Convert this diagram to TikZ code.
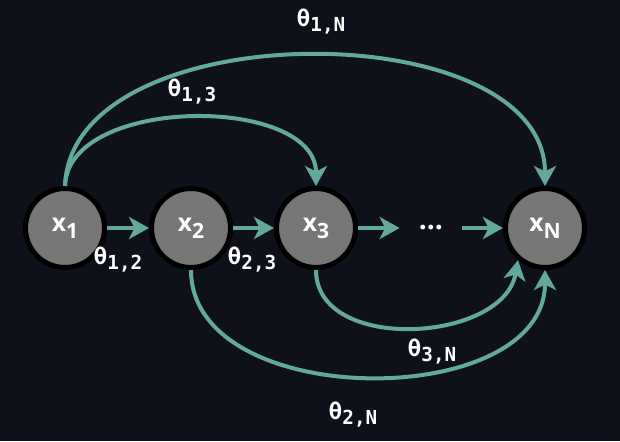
\documentclass[tikz,border=0pt]{standalone}
\usepackage{fontspec}
\usepackage{tikz}
\usetikzlibrary{arrows.meta, positioning}
\newfontfamily\labfont{DejaVu Sans Mono}
\newfontfamily\varfont{Open Sans}
\definecolor{BgDark}{HTML}{0E111A}
\definecolor{NodeGray}{HTML}{767676}
\definecolor{LinkTeal}{HTML}{62A89B}
% theta labels and variable names
\newcommand{\thlab}[1]{{\labfont\bfseries\fontsize{13}{15}\selectfont θ\raisebox{-0.1cm}{\fontsize{11}{13}\selectfont #1}}}
\newcommand{\varlab}[1]{{\varfont\bfseries\fontsize{14}{16}\selectfont x\raisebox{-0.14cm}{\fontsize{12}{14}\selectfont #1}}}

\begin{document}
\begin{tikzpicture}[
var/.style={
	circle,
	fill=NodeGray,
	draw=black,
	line width=0.1cm,
	minimum size=1.58cm,
	inner sep=0pt,
	text=white},
gap/.style={
	minimum width=1.24cm,
	inner sep=0pt,
	text=white,
	font=\varfont\bfseries\fontsize{16}{18}\selectfont},
link/.style={
	-{Stealth[length=0.4cm,width=0.44cm,inset=0.11cm]},
	draw,
	line width=0.08cm,
	color=LinkTeal},
lab/.style={
	text=white,
	inner sep=0pt}]

\fill[BgDark] (0,0) rectangle (12.4,8.82);
\useasboundingbox (0,0) rectangle (12.4,8.82);

%Variables
\foreach \i/\xx in {1/1.30,2/3.82,3/6.32}{%
	\node[var] (x\i) at (\xx,4.26) {\varlab{\i}};
}
\node[gap] (dots) at (8.62,4.26) {...};
\node[var] (xN) at (10.90,4.26) {\varlab{N}};

%Chain
\path[link] (x1) -- (x2);
\path[link] (x2) -- (x3);
\path[link] (x3) -- (dots);
\path[link] (dots) -- (xN);

%Skips
\path[link] (x1.north) to[out=88, in=90, looseness=0.93] (x3.north);
\path[link] (x1.north) to[out=88, in=90, looseness=0.93] (xN.north);
\path[link] (x2.south) to[out=-90, in=-90, looseness=1.03] (xN.south);
\path[link] (x3.south) to[out=-90, in=-100, looseness=1.06] (xN.-130);

%Labels
\node[lab] (t1N) at (6.42,8.38) {\thlab{1,N}};
\node[lab] (t13) at (3.84,6.98) {\thlab{1,3}};
\node[lab] (t12) at (2.36,3.62) {\thlab{1,2}};
\node[lab] (t23) at (5.04,3.62) {\thlab{2,3}};
\node[lab] (t3N) at (8.64,1.78) {\thlab{3,N}};
\node[lab] (t2N) at (7.06,0.52) {\thlab{2,N}};
\end{tikzpicture}
\end{document}
